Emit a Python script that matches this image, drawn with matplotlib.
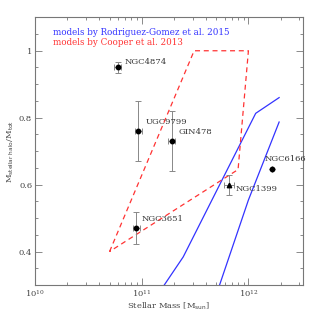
import numpy as np
import matplotlib
matplotlib.use("Agg")
import matplotlib.pyplot as plt
from matplotlib.ticker import FixedLocator, MultipleLocator, FuncFormatter, LogLocator, NullFormatter

# observed galaxies
names = ["NGC4874", "UGC9799", "GIN478", "NGC3651", "NGC1399", "NGC6166"]
mass = [5.96e10, 9.3e10, 1.91e11, 8.9e10, 6.58e11, 1.65e12]
mass_err_dex = [0.035, 0.035, 0.03, 0.035, 0.047, 0.0]
frac = [0.951, 0.760, 0.730, 0.470, 0.598, 0.646]
frac_err = [0.016, 0.09, 0.09, 0.048, 0.03, 0.0]
triangle = ["NGC1399"]

# Rodriguez-Gomez et al. 2015 models (two curves)
rg1_mass = [1.0e11, 2.45e11, 1.17e12, 1.94e12]
rg1_frac = [0.20, 0.384, 0.813, 0.860]
rg2_mass = [4.0e11, 1.0e12, 1.94e12]
rg2_frac = [0.18, 0.554, 0.787]

# Cooper et al. 2013 region
cooper_mass = [5.0e10, 3.1e11, 1.0e12, 8.0e11, 5.0e10]
cooper_frac = [0.40, 1.00, 1.00, 0.645, 0.40]

plt.rcParams["font.family"] = "DejaVu Serif"
fs = 6
gray = "#777777"

fig = plt.figure(figsize=(3.19, 3.19), dpi=100)
ax = fig.add_axes([0.1097, 0.1066, 0.8393, 0.8392])

ax.plot(rg1_mass, rg1_frac, color="#3333ff", lw=0.9)
ax.plot(rg2_mass, rg2_frac, color="#3333ff", lw=0.9)
ax.plot(cooper_mass, cooper_frac, color="#ff3333", lw=0.9, ls=(0, (4, 3)))

m = np.array(mass)
e = np.array(mass_err_dex)
xerr = [m - m / 10**e, m * 10**e - m]
ax.errorbar(m, frac, xerr=xerr, yerr=frac_err, fmt="none", ecolor="#888888",
            elinewidth=0.7, capsize=2.2, capthick=0.7)
for n, x, y in zip(names, mass, frac):
    mk = "^" if n in triangle else "o"
    ax.plot(x, y, marker=mk, color="black", ms=3.2, ls="none")

# label offsets in pixels (dx, dy)
offsets = {"NGC4874": (7, 5), "UGC9799": (7, 9), "GIN478": (7, 9),
           "NGC3651": (5, 9), "NGC1399": (7, -4), "NGC6166": (-7, 10)}
for n, x, y in zip(names, mass, frac):
    ax.annotate(n, (x, y), xytext=offsets[n], textcoords="offset pixels",
                ha="left", va="center", fontsize=fs, color="#333333")

ax.text(0.067, 0.944, "models by Rodriguez-Gomez et al. 2015", transform=ax.transAxes,
        color="#3333ff", fontsize=6.3, va="center")
ax.text(0.067, 0.907, "models by Cooper et al. 2013", transform=ax.transAxes,
        color="#ff3333", fontsize=6.3, va="center")

ax.set_xscale("log")
ax.set_xlim(1e10, 10**12.509)
ax.set_ylim(0.3, 1.1)
ax.xaxis.set_major_locator(FixedLocator([1e10, 1e11, 1e12]))
ax.xaxis.set_minor_locator(LogLocator(base=10, subs=np.arange(2, 10)))
ax.xaxis.set_minor_formatter(NullFormatter())
ax.yaxis.set_major_locator(FixedLocator([0.4, 0.6, 0.8, 1.0]))
ax.yaxis.set_minor_locator(MultipleLocator(0.05))
ax.yaxis.set_major_formatter(FuncFormatter(lambda v, p: "%g" % v))

ax.tick_params(which="both", direction="in", top=True, right=True, color=gray,
               labelsize=fs, labelcolor="#444444", width=0.6)
ax.tick_params(axis="x", pad=2.5)
ax.tick_params(axis="y", pad=2)
ax.tick_params(which="major", length=5)
ax.tick_params(which="minor", length=2.5)
for s in ax.spines.values():
    s.set_color(gray)
    s.set_linewidth(0.8)

ax.set_xlabel(r"Stellar Mass [M$_{\rm sun}$]", fontsize=fs, color="#444444", labelpad=1)
ax.set_ylabel(r"M$_{\rm stellar\ halo}$/M$_{\rm tot}$", fontsize=fs, color="#444444", labelpad=2)

fig.savefig("out.png", dpi=100)
